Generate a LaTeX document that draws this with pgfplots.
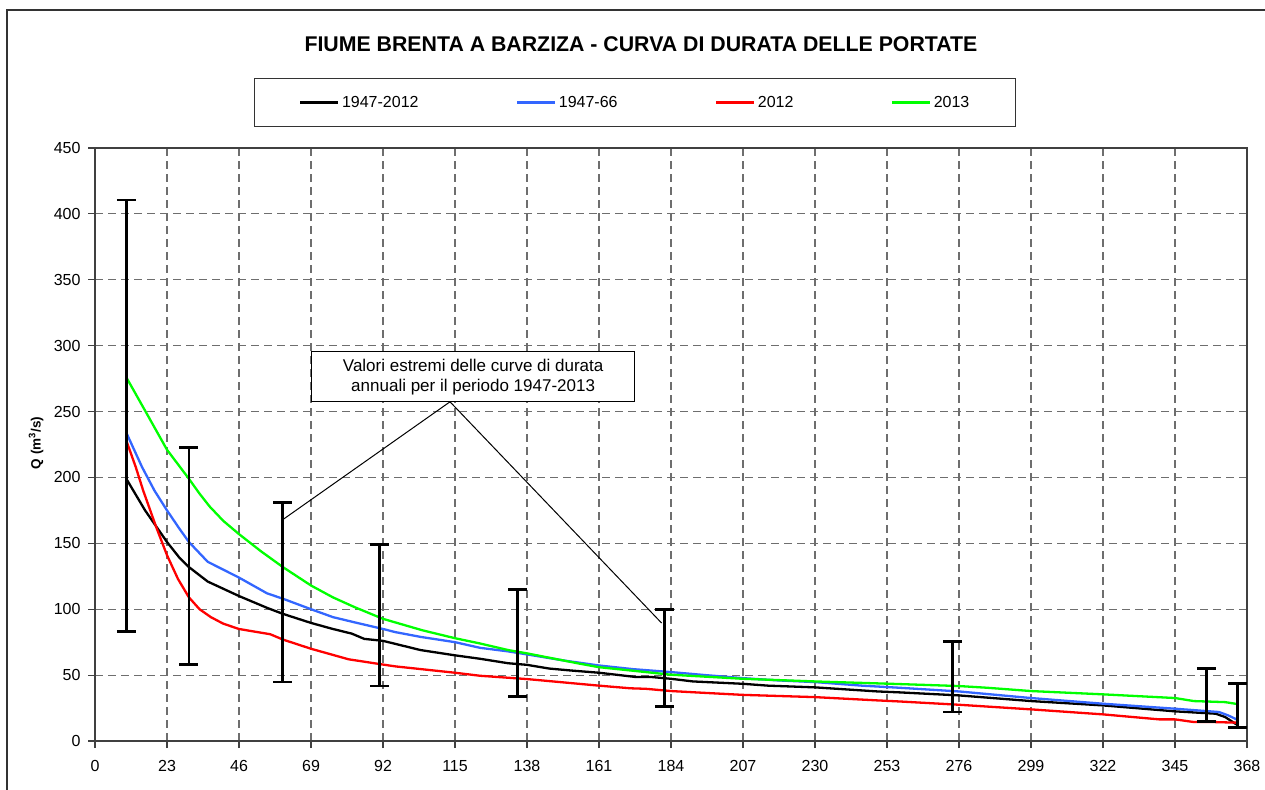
\documentclass[border=0pt]{standalone}
\usepackage{fontspec}
\setmainfont{Liberation Sans}
\usepackage{pgfplots}
\pgfplotsset{compat=1.18}
\definecolor{cblue}{RGB}{51,102,255}
\definecolor{cred}{RGB}{255,0,0}
\definecolor{cgreen}{RGB}{0,255,0}
\definecolor{gridgray}{RGB}{110,110,110}

\begin{document}
\begin{tikzpicture}[x=1pt,y=1pt]
\useasboundingbox (0,0) rectangle (1265,789);
% cornice esterna del grafico
\draw[black!80, line width=1.3pt] (7,-2) -- (7,779) -- (1267,779);
\node[anchor=base, font=\fontsize{21.3}{25}\selectfont\bfseries] at (641,737.3)
  {FIUME BRENTA A BARZIZA - CURVA DI DURATA DELLE PORTATE};
\node[rotate=90, font=\fontsize{13.5}{15}\selectfont\bfseries] at (36,346) {Q (m\textsuperscript{3}/s)};

\begin{axis}[
  at={(95pt,48pt)}, anchor=south west,
  scale only axis, width=1152pt, height=593pt,
  xmin=0, xmax=368, ymin=0, ymax=450,
  xtick={0,23,46,69,92,115,138,161,184,207,230,253,276,299,322,345,368},
  ytick={0,50,100,150,200,250,300,350,400,450},
  /pgf/number format/assume math mode=true,
  ticklabel style={font=\fontsize{16}{19}\selectfont},
  xticklabel style={yshift=-9pt},
  yticklabel style={xshift=-4pt},
  xtick pos=bottom, ytick pos=left,
  tick align=outside, major tick length=7pt,
  tick style={black!75, line width=1.1pt},
  axis line style={black!75, line width=1.3pt},
  grid=major,
  major grid style={gridgray, dash pattern=on 8pt off 5pt, line width=1.1pt},
  clip=false,
  legend columns=4,
  legend style={at={(0.4688,1.0767)}, anchor=center, draw=black!80, line width=1.2pt,
    font=\fontsize{16}{19}\selectfont,
    /tikz/every even column/.append style={column sep=95pt},
    inner xsep=44pt, inner ysep=16pt},
  legend image code/.code={\draw[#1, line width=3.3pt] (0pt,0pt) -- (38pt,0pt);},
]

\addplot[black, line width=2.3pt] coordinates {
(10,199) (16,175) (23,151) (27,139) (30,132) (36,121) (46,110) (55,101) (60,96.5)
(69,89.6) (76,85) (82,81.5) (86,77.5) (92,76) (104,69) (115,65) (123,62.4) (132,59)
(138,57.8) (145,55) (152,53.5) (161,51.8) (173,48.5) (178,48.5) (184,47.2) (191,45.2)
(207,43.4) (215,42) (230,40.7) (250,37.6) (257,36.9) (276,34.6) (299,30.3) (322,27)
(345,22.5) (358,20.7) (361,18.2) (365,12)
};
\addlegendentry{1947-2012}

\addplot[cblue, line width=2.3pt] coordinates {
(10,234) (15,208) (19,190) (23,175) (27,161) (30,151) (36,136) (46,124) (55,112)
(60,108) (69,100) (76,94) (83,90) (92,85) (96,82.6) (104,79) (115,75) (123,70.7)
(132,68) (138,65.7) (150,61) (161,57.3) (172,54.5) (184,52.3) (195,50) (207,47.7)
(218,46) (230,44.7) (245,42) (257,40.4) (276,37.6) (299,32.6) (322,28.3) (345,24.5)
(359,22) (362,19.4) (365,16)
};
\addlegendentry{1947-66}

\addplot[cred, line width=2.3pt] coordinates {
(10,228) (13,208) (15.4,190) (19.6,162) (23,141) (26.5,123) (30,109) (33.4,100)
(37,94) (41,89) (46,85) (56,81) (60,77) (69,70) (81,62) (92,58) (96,56.6) (115,51.8)
(123,49.5) (132,48) (138,47) (161,42) (171,40) (176,39.6) (184,37.9) (191,37)
(207,35) (230,33.3) (250,30.8) (257,30) (276,27.5) (299,24) (322,20.2) (340,16.4)
(345,16.4) (351,14.4) (357,14.4) (365,13.9)
};
\addlegendentry{2012}

\addplot[cgreen, line width=2.3pt] coordinates {
(10,276) (16.4,249) (23,221) (30,199) (33.3,188) (36.6,178) (41,167) (46,157)
(53,144) (60,132) (69,118) (76,109) (83,101.5) (92,92.7) (104.6,84) (115,78)
(123,74) (132,69) (138,66.5) (155,58.6) (161,56) (184,50.3) (207,47.2) (230,45.2)
(257,43.2) (276,41.7) (285,40.4) (299,37.9) (322,35.4) (345,32.6) (351,30.3)
(361,29.5) (365,28)
};
\addlegendentry{2013}

% valori estremi annuali
\addplot[draw=none, mark=none, forget plot,
  error bars/.cd, y dir=both, y explicit,
  error bar style={draw=black, solid, line width=2.8pt},
  error mark options={draw=black, solid, rotate=90, mark size=9.5pt, line width=2.8pt}]
  table[x=d, y=lo, y error plus expr=\thisrow{hi}-\thisrow{lo}, y error minus expr=0] {
d lo hi
10 83 410.5
30 57.8 222.5
60 44.7 181
91 41.7 149
135 34 115
182 26 99.7
274 22 75.8
355 14.9 54.8
365 10.1 43.9
};

\draw[black, line width=1pt] (axis cs:113.4,257.4) -- (axis cs:60,168);
\draw[black, line width=1pt] (axis cs:113.4,257.4) -- (axis cs:181,89.5);
\node[draw=black, line width=1.2pt, fill=white, minimum width=323pt, minimum height=50pt,
  inner sep=0pt, align=center, font=\fontsize{17}{20}\selectfont]
  at (axis cs:120.8,276.5) {Valori estremi delle curve di durata\\annuali per il periodo 1947-2013};
\end{axis}
\end{tikzpicture}
\end{document}
